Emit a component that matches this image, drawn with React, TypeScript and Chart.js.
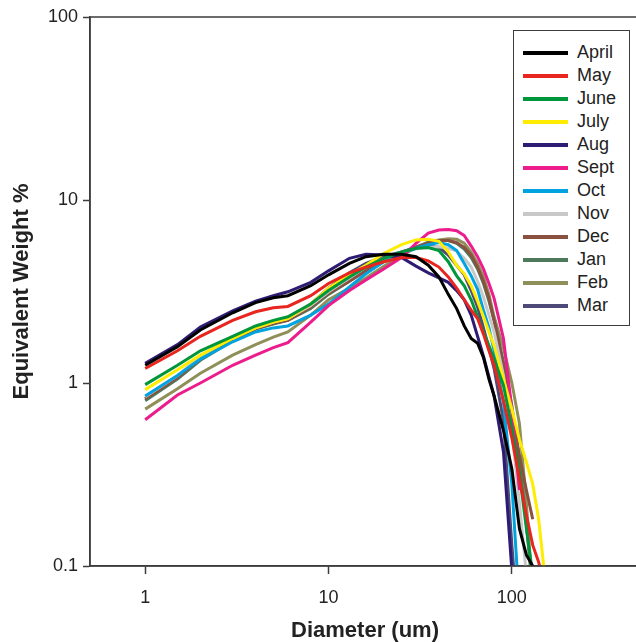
import React, { useEffect, useRef } from "react";
import { Chart, registerables } from "chart.js";

Chart.register(...registerables);

// Diameter (um) sample points shared by all months
const diameters = [1, 1.5, 2, 3, 4, 5, 6, 8, 10, 13, 16, 20, 25, 30, 35, 40, 45, 50, 55, 60, 65, 70, 75, 80, 90, 100, 110, 120, 130, 140, 150];

// Equivalent weight % per month (null = no data)
const april = [1.25, 1.58, 1.95, 2.42, 2.75, 2.92, 3.0, 3.4, 3.9, 4.5, 4.9, 5.05, 5.05, 4.9, 4.4, 3.8, 3.05, 2.55, 2.05, 1.75, 1.65, 1.38, 1.05, 0.85, 0.55, 0.34, 0.16, 0.115, 0.1, 0.07, null];
const may = [1.2, 1.5, 1.8, 2.2, 2.45, 2.58, 2.62, 3.0, 3.5, 4.0, 4.3, 4.6, 4.85, 4.85, 4.65, 4.3, 3.8, 3.3, 2.85, 2.5, 2.25, 1.85, 1.5, 1.25, 0.8, 0.5, 0.3, 0.19, 0.13, 0.105, 0.08];
const june = [0.98, 1.25, 1.5, 1.8, 2.05, 2.2, 2.3, 2.7, 3.2, 3.8, 4.3, 4.8, 5.2, 5.45, 5.5, 5.3, 4.6, 3.85, 3.4, 2.85, 2.3, 1.9, 1.6, 1.35, 0.97, 0.57, 0.32, 0.16, 0.09, null, null];
const july = [0.92, 1.18, 1.42, 1.75, 2.0, 2.15, 2.25, 2.7, 3.3, 3.9, 4.4, 5.1, 5.7, 6.05, 6.1, 5.95, 5.2, 4.4, 3.95, 3.4, 2.8, 2.3, 1.9, 1.6, 1.05, 0.72, 0.49, 0.37, 0.28, 0.18, 0.095];
const aug = [1.28, 1.62, 2.02, 2.48, 2.8, 3.0, 3.15, 3.55, 4.1, 4.8, 5.05, 5.0, 4.85, 4.35, 4.0, 3.75, 3.55, 3.2, 2.85, 2.35, 1.8, 1.4, 1.08, 0.85, 0.42, 0.095, null, null, null, null, null];
const sept = [0.63, 0.86, 1.0, 1.25, 1.42, 1.56, 1.66, 2.15, 2.65, 3.2, 3.65, 4.2, 4.85, 5.8, 6.6, 6.85, 6.9, 6.8, 6.4, 5.6, 4.9, 4.2, 3.5, 2.9, 1.75, 0.72, 0.26, null, null, null, null];
const oct = [0.85, 1.1, 1.35, 1.68, 1.9, 2.0, 2.05, 2.35, 2.7, 3.35, 3.95, 4.6, 5.1, 5.45, 5.7, 5.85, 5.7, 5.3, 4.5, 3.85, 3.25, 2.5, 2.0, 1.5, 0.78, 0.28, 0.06, null, null, null, null];
const nov = [0.84, 1.1, 1.4, 1.78, 2.0, 2.15, 2.25, 2.65, 3.15, 3.75, 4.3, 4.8, 5.15, 5.4, 5.5, 5.55, 5.45, 5.25, 4.8, 4.3, 3.6, 2.95, 2.35, 1.9, 1.1, 0.55, 0.22, 0.09, null, null, null];
const dec = [0.82, 1.07, 1.36, 1.73, 1.98, 2.12, 2.2, 2.6, 3.1, 3.6, 4.1, 4.6, 5.1, 5.5, 5.8, 6.0, 6.0, 5.85, 5.5, 5.0, 4.3, 3.6, 2.9, 2.2, 1.25, 0.68, 0.4, 0.26, 0.18, null, null];
const jan = [0.8, 1.05, 1.33, 1.7, 1.97, 2.1, 2.2, 2.55, 3.05, 3.6, 4.15, 4.65, 5.15, 5.55, 5.85, 6.0, 6.0, 5.8, 5.4, 4.85, 4.2, 3.5, 2.8, 2.2, 1.3, 0.75, 0.38, 0.17, 0.07, null, null];
const feb = [0.72, 0.93, 1.13, 1.42, 1.62, 1.78, 1.9, 2.35, 2.85, 3.3, 3.75, 4.35, 4.95, 5.5, 5.9, 6.05, 6.15, 6.1, 5.8, 5.2, 4.5, 3.8, 3.05, 2.3, 1.55, 1.0, 0.6, 0.22, 0.07, null, null];
const mar = [0.82, 1.08, 1.38, 1.75, 2.0, 2.15, 2.25, 2.7, 3.3, 4.0, 4.5, 4.9, 5.2, 5.5, 5.6, 5.5, 5.0, 4.4, 3.9, 3.2, 2.6, 2.0, 1.55, 1.2, 0.62, 0.13, 0.04, null, null, null, null];

const monthLabels = ["April", "May", "June", "July", "Aug", "Sept", "Oct", "Nov", "Dec", "Jan", "Feb", "Mar"];
const monthColors = ["#000000", "#e8251f", "#00963c", "#ffec00", "#2e1b73", "#ec1c8c", "#00a3e0", "#c8c8c8", "#8a5040", "#4d7a5a", "#8f8f5a", "#4e4a78"];
const monthValues = [april, may, june, july, aug, sept, oct, nov, dec, jan, feb, mar];

const xTicks = [1, 10, 100];
const yTicks = [0.1, 1, 10, 100];

const FONT = "'Liberation Sans', Arial, sans-serif";
const AXIS = "#3c3c3c";
const TEXT = "#222222";

export default function App() {
  const ref = useRef<HTMLCanvasElement>(null);

  useEffect(() => {
    Chart.defaults.font.family = FONT;
    const frame = {
      id: "frame",
      afterDatasetsDraw(chart: any) {
        const { ctx, chartArea } = chart;
        ctx.save();
        ctx.strokeStyle = AXIS;
        ctx.lineWidth = 1.5;
        ctx.strokeRect(chartArea.left, chartArea.top, chartArea.right - chartArea.left, chartArea.bottom - chartArea.top);
        ctx.restore();
      },
    };
    const chart = new Chart(ref.current as HTMLCanvasElement, {
      type: "line",
      data: {
        datasets: monthLabels.map((name, k) => ({
          label: name,
          data: diameters
            .map((d, i) => ({ x: d, y: monthValues[k][i] }))
            .filter((p) => p.y !== null) as any,
          borderColor: monthColors[k],
          backgroundColor: monthColors[k],
          borderWidth: 3,
          pointRadius: 0,
          fill: false,
          tension: 0,
        })),
      },
      options: {
        responsive: false,
        animation: false,
        layout: { padding: { top: 17, right: 20, left: 0, bottom: 0 } },
        plugins: { legend: { display: false }, tooltip: { enabled: false } },
        scales: {
          x: {
            type: "logarithmic",
            min: 0.5,
            max: 500,
            afterBuildTicks: (s: any) => {
              s.ticks = xTicks.map((v) => ({ value: v }));
            },
            afterFit: (s: any) => {
              s.height = 76;
            },
            ticks: {
              callback: (v: any) => String(v),
              font: { size: 18 },
              color: TEXT,
              padding: 13,
              maxRotation: 0,
              autoSkip: false,
            },
            grid: { drawOnChartArea: false, tickLength: 8, tickColor: AXIS, tickWidth: 1.5 },
            border: { color: AXIS, width: 1.5 },
            title: {
              display: true,
              text: "Diameter (um)",
              color: TEXT,
              font: { size: 22, weight: "bold", lineHeight: 1 },
              padding: { top: 0, bottom: 0 },
            },
          },
          y: {
            type: "logarithmic",
            min: 0.1,
            max: 100,
            afterBuildTicks: (s: any) => {
              s.ticks = yTicks.map((v) => ({ value: v }));
            },
            afterFit: (s: any) => {
              s.width = 90;
            },
            ticks: {
              callback: (v: any) => String(v),
              font: { size: 18 },
              color: TEXT,
              padding: 5,
              autoSkip: false,
            },
            grid: { drawOnChartArea: false, tickLength: 7, tickColor: AXIS, tickWidth: 1.5 },
            border: { color: AXIS, width: 1.5 },
            title: {
              display: true,
              text: "Equivalent Weight %",
              color: TEXT,
              font: { size: 22, weight: "bold", lineHeight: 1.2 },
              padding: { top: 9, bottom: 0 },
            },
          },
        },
      } as any,
      plugins: [frame],
    });
    return () => chart.destroy();
  }, []);

  return (
    <div style={{ position: "relative", width: 636, height: 642, overflow: "hidden", background: "#fff" }}>
      <style>{`body{margin:0;overflow:hidden;background:#fff}`}</style>
      <canvas ref={ref} width={660} height={642} style={{ display: "block" }} />
      <div
        style={{
          position: "absolute",
          left: 513,
          top: 30,
          width: 117,
          height: 296,
          border: `1.5px solid ${AXIS}`,
          background: "#fff",
          boxSizing: "border-box",
        }}
      >
        {monthLabels.map((name, k) => (
          <div
            key={name}
            style={{ position: "absolute", left: 0, top: 10 + k * 23, height: 23, width: "100%" }}
          >
            <div
              style={{
                position: "absolute",
                left: 9,
                top: 9.5,
                width: 45,
                height: 4,
                background: monthColors[k],
              }}
            />
            <div
              style={{
                position: "absolute",
                left: 63,
                top: 0,
                lineHeight: "23px",
                fontSize: 18,
                fontFamily: FONT,
                color: TEXT,
              }}
            >
              {name}
            </div>
          </div>
        ))}
      </div>
    </div>
  );
}
